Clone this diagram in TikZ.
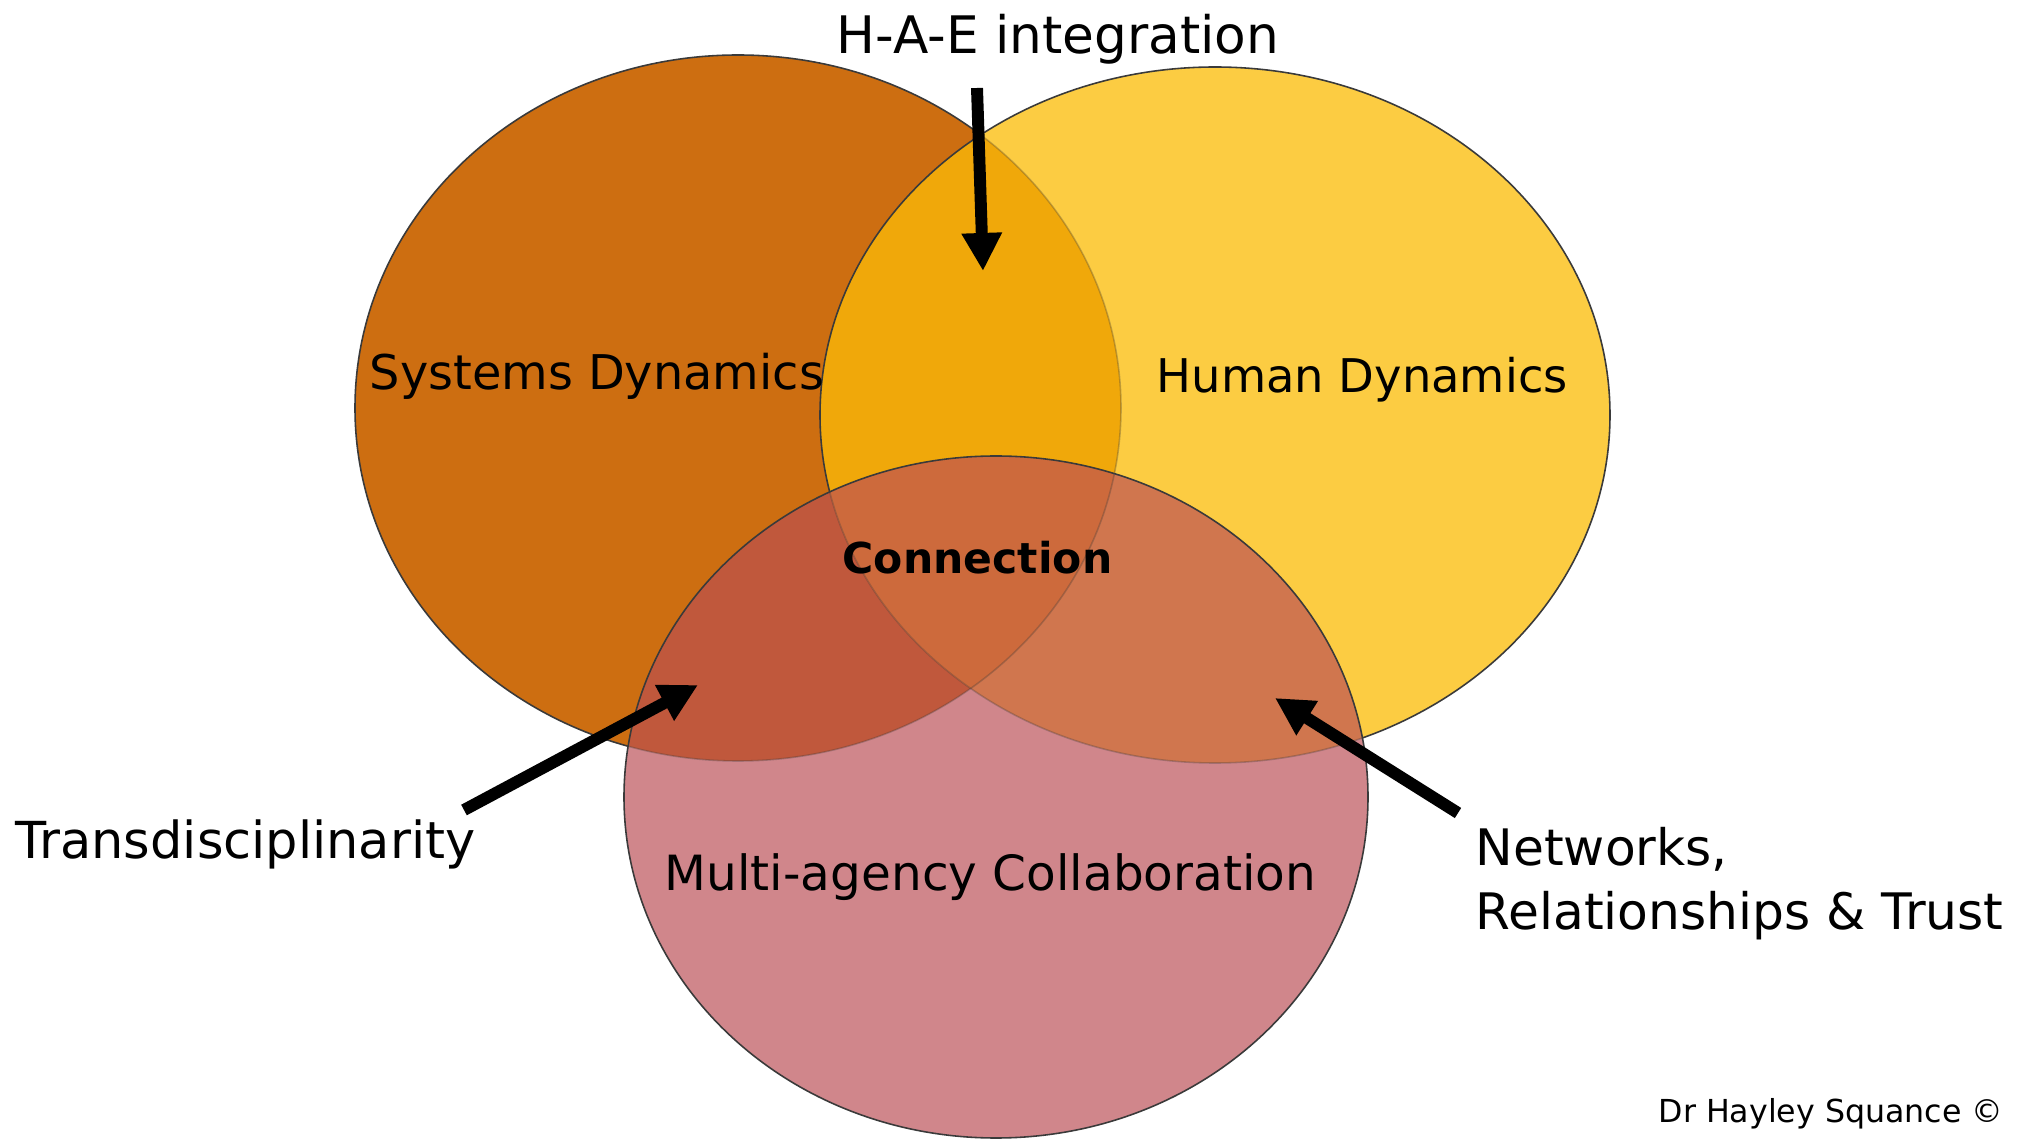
\documentclass[tikz,border=0pt]{standalone}
\usepackage{fontspec}
\setmainfont{DejaVu Sans}
\usetikzlibrary{arrows.meta}
\definecolor{sysc}{HTML}{CD6E11}
\definecolor{humc}{HTML}{FCCC42}
\definecolor{shc}{HTML}{F0A80A}
\definecolor{mulc}{HTML}{D0868B}
\definecolor{smc}{HTML}{C0583C}
\definecolor{hmc}{HTML}{D0764E}
\definecolor{shmc}{HTML}{CD6A3C}
\definecolor{edgec}{HTML}{3A3A3A}
\begin{document}
\begin{tikzpicture}[x=0.01cm,y=-0.01cm,
  Sp/.style={insert path={(738,408) ellipse [x radius=383, y radius=353]}},
  Hp/.style={insert path={(1215,415) ellipse [x radius=395, y radius=348]}},
  Mp/.style={insert path={(996,797) ellipse [x radius=372, y radius=341]}},
  edge/.style={draw=edgec, line width=0.45pt},
  faint/.style={draw=edgec, line width=0.45pt, draw opacity=0.3},
  lab/.style={inner sep=0pt, anchor=base west, text=black},
  fs/.style={font=\fontsize{#1}{#1*1.24}\selectfont},
  bigarrow/.style={line width=3.4pt, -{Triangle[length=0.38cm, width=0.38cm]}}]
\useasboundingbox (0,0) rectangle (2023,1140);
\fill[white] (0,0) rectangle (2023,1140);
% Systems and Human
\fill[sysc, Sp]; \draw[edge, Sp];
\fill[humc, Hp];
\begin{scope} \clip[Sp]; \fill[shc, Hp]; \end{scope}
\begin{scope} \clip[Hp]; \draw[faint, Sp]; \end{scope}
\draw[edge, Hp];
% Multi-agency
\fill[mulc, Mp];
\begin{scope}
  \clip[Mp];
  \fill[smc, Sp];
  \fill[hmc, Hp];
  \begin{scope} \clip[Sp]; \fill[shmc, Hp]; \end{scope}
  \draw[faint, Sp];
  \draw[faint, Hp];
\end{scope}
\draw[edge, Mp];
% labels
\node[lab, font=\fontsize{14.7}{18}\selectfont] (hae) at (836,54) {H-A-E integration};
\node[lab, font=\fontsize{13.6}{17}\selectfont] (sys) at (369,390) {Systems Dynamics};
\node[lab, font=\fontsize{13.2}{16}\selectfont] (hum) at (1156,393) {Human Dynamics};
\node[lab, font=\bfseries\fontsize{12.1}{15}\selectfont] (con) at (842,574) {Connection};
\node[lab, font=\fontsize{13.8}{17}\selectfont] (mul) at (664,891) {Multi-agency Collaboration};
\node[lab, font=\fontsize{14.5}{18}\selectfont] (tra) at (15,859) {Transdisciplinarity};
\node[lab, align=left, anchor=north west, font=\fontsize{14.3}{18}\selectfont] (net) at (1475,827) {Networks,\\Relationships \& Trust};
\node[lab, font=\fontsize{9}{11}\selectfont] (auth) at (1658,1122) {Dr Hayley Squance ©};
% arrows
\coordinate (haeS) at (977,88);
\coordinate (haeT) at (983,271);
\coordinate (traS) at (464,810);
\coordinate (traT) at (698,685);
\coordinate (netS) at (1458,813);
\coordinate (netT) at (1275,698);
\draw[bigarrow] (haeS) -- (haeT);
\draw[bigarrow] (traS) -- (traT);
\draw[bigarrow] (netS) -- (netT);
\end{tikzpicture}
\end{document}
